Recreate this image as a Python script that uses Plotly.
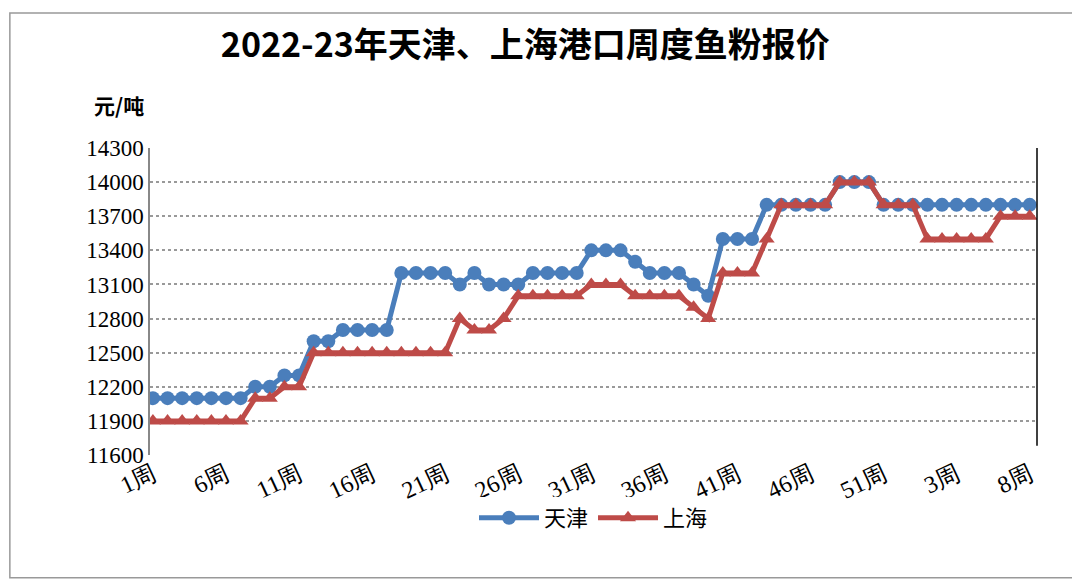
import plotly.graph_objects as go

weeks = list(range(1, 54)) + list(range(1, 9))
labels = [f"{w}周" for w in weeks]

tianjin = ([12100] * 7 + [12200] * 2 + [12300] * 2 + [12600] * 2 + [12700] * 4
           + [13200] * 4 + [13100, 13200] + [13100] * 3 + [13200] * 4
           + [13400] * 3 + [13300] + [13200] * 3 + [13100, 13000] + [13500] * 3
           + [13800] * 5 + [14000] * 3 + [13800] * 11)
shanghai = ([11900] * 7 + [12100] * 2 + [12200] * 2 + [12500] * 10
            + [12800, 12700, 12700, 12800] + [13000] * 5 + [13100] * 3
            + [13000] * 4 + [12900, 12800] + [13200] * 3 + [13500]
            + [13800] * 4 + [14000] * 3 + [13800] * 3 + [13500] * 5 + [13700] * 3)
yticks = list(range(11600, 14301, 300))

x = list(range(len(weeks)))
tickvals = x[::5]
ticktext = [labels[i] for i in tickvals]

fig = go.Figure()
fig.add_trace(go.Scatter(
    x=x, y=tianjin, name="天津", mode="lines+markers",
    line=dict(color="#4a7ebb", width=5),
    marker=dict(symbol="circle", size=14, color="#4a7ebb"),
))
fig.add_trace(go.Scatter(
    x=x, y=shanghai, name="上海", mode="lines+markers",
    line=dict(color="#be4b48", width=5),
    marker=dict(symbol="triangle-up", size=14, color="#be4b48"),
))

font = "Noto Sans CJK SC"
fig.update_layout(
    width=1080, height=582,
    paper_bgcolor="white", plot_bgcolor="white",
    margin=dict(l=142, r=51, t=140, b=135, autoexpand=False),
    font=dict(family=font, color="black"),
    title=dict(text="<b>2022-23年天津、上海港口周度鱼粉报价</b>",
               x=0.479, xanchor="center", y=0.937, yanchor="middle",
               font=dict(size=34, family=font)),
    xaxis=dict(range=[-0.2, 60.5], tickvals=tickvals, ticktext=ticktext,
               tickangle=-25, tickfont=dict(size=24, family="Liberation Serif"),
               showgrid=False, zeroline=False, showline=False),
    yaxis=dict(range=[11600, 14300], tickvals=yticks, ticktext=[str(v) for v in yticks],
               tickfont=dict(size=23, family="Liberation Serif"),
               showgrid=True, gridcolor="#999999", griddash="dot", gridwidth=1.5,
               showline=True, linecolor="#888888", linewidth=1.5, zeroline=False),
    legend=dict(orientation="h", x=0.5, xanchor="center", y=-0.205, yanchor="middle",
                font=dict(size=22, family=font), itemwidth=60),
    showlegend=True,
    shapes=[
        dict(type="line", xref="paper", yref="paper", x0=1, x1=1, y0=0.03, y1=1,
             line=dict(color="black", width=1.5)),
        dict(type="rect", xref="paper", yref="paper", x0=-0.158, x1=1.046,
             y0=-0.40, y1=1.44, line=dict(color="#999999", width=1.5)),
    ],
    annotations=[dict(text="<b>元/吨</b>", xref="paper", yref="paper",
                      x=-0.035, y=1.14, xanchor="center", yanchor="middle",
                      showarrow=False, font=dict(size=21, family=font))],
)

fig.write_html("out.html")
